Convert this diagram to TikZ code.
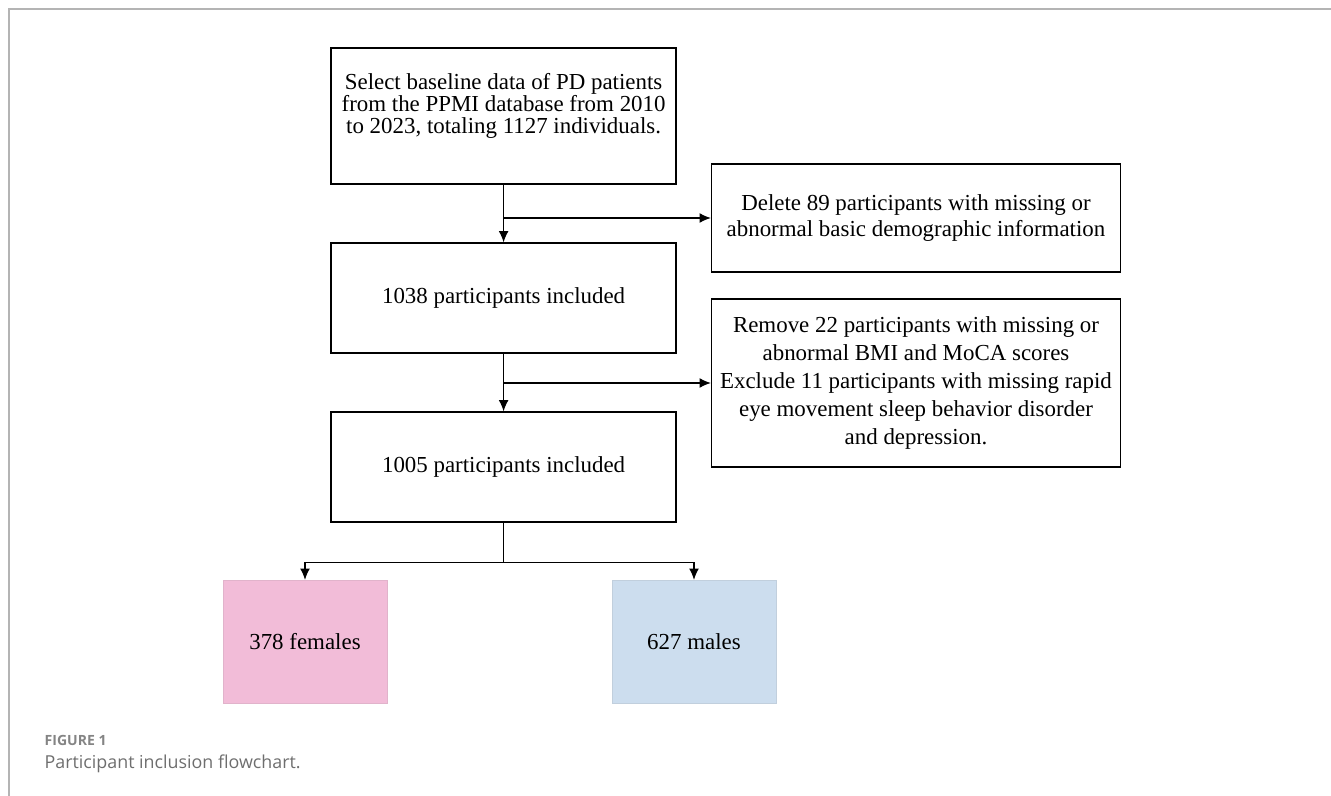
\documentclass[tikz,border=0pt]{standalone}
\usepackage{fontspec}
\setmainfont{Liberation Serif}
\newfontfamily\capfont{Open Sans}
\usetikzlibrary{arrows.meta,positioning}
\definecolor{fempink}{HTML}{F2BCD8}
\definecolor{maleblue}{HTML}{CCDDEE}
\definecolor{framegray}{HTML}{B4B4B4}
\definecolor{capgray}{HTML}{6E6E6E}
\tikzset{
    component/.style={
    rectangle,draw=black,line width=0.9pt,align=center,
    font=\fontsize{16.3}{19.5}\selectfont
    },
    gcomponent/.style={
    rectangle,fill=#1,draw=#1!85!gray,line width=0.4pt,
    minimum width=4.1cm,minimum height=3.075cm,
    font=\fontsize{16.3}{19.5}\selectfont
    },
    caption/.style={
    anchor=west,inner sep=0pt,text=capgray
    },
}
\begin{document}
\begin{tikzpicture}[>={Latex[length=8pt,width=7pt]}, line width=0.9pt]
   \useasboundingbox (0,0) rectangle (33.275,-19.9);
   \draw[framegray,line width=0.8pt] (0.225,-19.9) -- (0.225,-0.225) -- (33.275,-0.225);

   \node[component,minimum width=8.625cm,minimum height=3.4cm,
     font=\fontsize{16.3}{15.65}\selectfont,text depth=17.2pt] (sel) at (12.59,-2.9)
     {Select baseline data of PD patients\\from the PPMI database from 2010\\to 2023, totaling 1127 individuals.};
   \node[component,minimum width=8.625cm,minimum height=2.75cm] (inc1) at (12.59,-7.45) {1038 participants included};
   \node[component,minimum width=8.625cm,minimum height=2.75cm] (inc2) at (12.59,-11.675) {1005 participants included};
   \node[component,minimum width=10.225cm,minimum height=2.7cm,
     font=\fontsize{16.3}{19}\selectfont] (del) at (22.9,-5.45)
     {Delete 89 participants with missing or\\abnormal basic demographic information};
   \node[component,minimum width=10.225cm,minimum height=4.2cm,
     font=\fontsize{16.3}{19.9}\selectfont] (rem) at (22.9,-9.575)
     {Remove 22 participants with missing or\\abnormal BMI and MoCA scores\\Exclude 11 participants with missing rapid\\eye movement sleep behavior disorder\\and depression.};
   \node[gcomponent=fempink] (fem) at (7.625,-16.04) {378 females};
   \node[gcomponent=maleblue] (mal) at (17.35,-16.04) {627 males};

  \path[->]
    (sel) edge (inc1)
    (sel.south |- del.west) edge (del.west)
    (inc1) edge (inc2)
    (inc1.south |- rem.west) edge (rem.west);
  \draw (inc2.south) -- ++(0,-1) coordinate (split);
  \draw[->] (split) -| (fem.north);
  \draw[->] (split) -| (mal.north);

   \node[caption,font=\capfont\bfseries\fontsize{10}{12}\selectfont,text=capgray!85] (fig) at (1.1,-18.5) {FIGURE 1};
   \node[caption,font=\capfont\fontsize{12.7}{15}\selectfont] (cap) at (1.1,-19.1) {Participant inclusion flowchart.};
\end{tikzpicture}
\end{document}
